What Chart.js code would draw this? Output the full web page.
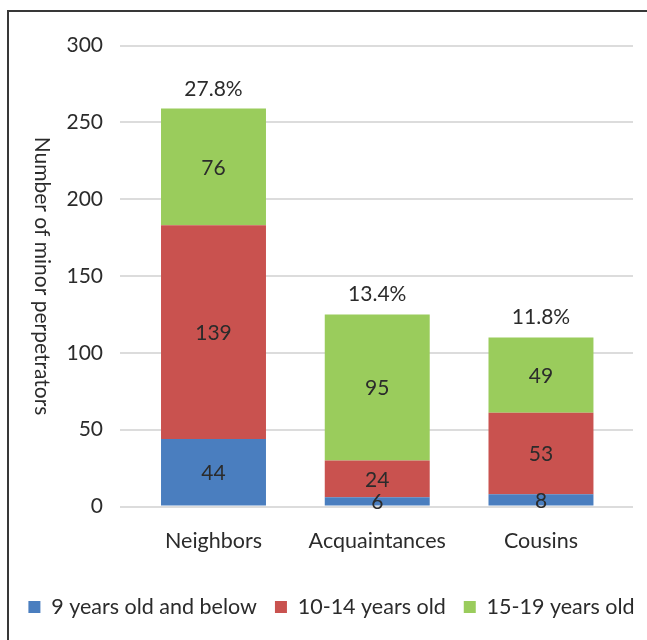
<!DOCTYPE html>
<html>
<head>
<meta charset="utf-8">
<script src="https://cdn.jsdelivr.net/npm/chart.js@4/dist/chart.umd.min.js"></script>
<style>
  html, body { margin: 0; padding: 0; background: #fff; overflow: hidden; }
  #wrap { position: relative; width: 647px; height: 640px; }
  #c { position: absolute; left: 0; top: 0; }
  #frame { position: absolute; left: 7px; top: 10px; width: 700px; height: 700px;
           border: 2px solid #383838; pointer-events: none; }
</style>
</head>
<body>
<div id="wrap">
  <canvas id="c" width="647" height="640"></canvas>
  <div id="frame"></div>
</div>
<script>
// ---- data ----
const categories = ['Neighbors', 'Acquaintances', 'Cousins'];
const seriesNames = ['9 years old and below', '10-14 years old', '15-19 years old'];
const age9Below = [44, 6, 8];
const age10to14 = [139, 24, 53];
const age15to19 = [76, 95, 49];
const totalPercent = ['27.8%', '13.4%', '11.8%'];
const yTicks = [0, 50, 100, 150, 200, 250, 300];
const yTitle = 'Number of minor perpetrators';

const colors = ['#4a7ebf', '#c9524f', '#9acc5c'];
const FONT = 'Lato, "Open Sans", sans-serif';
const TEXT = '#2b2b2b';

const toPts = arr => arr.map((v, i) => ({ x: i, y: v }));

const segLabels = {
  id: 'segLabels',
  afterLayout(chart) {
    if (chart.legend) { chart.legend.left += 8; chart.legend.right += 8; }
  },
  afterDatasetsDraw(chart) {
    const ctx = chart.ctx;
    ctx.save();
    ctx.font = '21px ' + FONT;
    ctx.fillStyle = TEXT;
    ctx.textAlign = 'center';
    ctx.textBaseline = 'middle';
    chart.data.datasets.forEach((ds, di) => {
      const meta = chart.getDatasetMeta(di);
      meta.data.forEach((bar, i) => {
        const v = ds.data[i].y;
        ctx.fillText(String(v), bar.x, (bar.y + bar.base) / 2 + 1);
      });
    });
    // percentages above each stacked bar
    const last = chart.getDatasetMeta(chart.data.datasets.length - 1);
    ctx.textBaseline = 'alphabetic';
    last.data.forEach((bar, i) => {
      ctx.fillText(totalPercent[i], bar.x, bar.y - 13);
    });
    // y-axis title, rotated clockwise
    const ca = chart.chartArea;
    ctx.translate(42, (ca.top + ca.bottom) / 2);
    ctx.rotate(Math.PI / 2);
    ctx.textBaseline = 'middle';
    ctx.fillText(yTitle, 0, 0);
    ctx.restore();
  }
};

new Chart(document.getElementById('c'), {
  type: 'bar',
  data: {
    datasets: [
      { label: seriesNames[0], data: toPts(age9Below), backgroundColor: colors[0] },
      { label: seriesNames[1], data: toPts(age10to14), backgroundColor: colors[1] },
      { label: seriesNames[2], data: toPts(age15to19), backgroundColor: colors[2] }
    ]
  },
  options: {
    responsive: false,
    animation: false,
    devicePixelRatio: 1,
    categoryPercentage: 1,
    barPercentage: 0.641,
    layout: { padding: { left: 0, right: 0, top: 45.5, bottom: 12.25 } },
    plugins: {
      legend: {
        position: 'bottom',
        labels: {
          font: { family: FONT, size: 21.5 },
          color: TEXT,
          boxWidth: 12,
          boxHeight: 12,
          padding: 18
        }
      },
      tooltip: { enabled: false }
    },
    scales: {
      x: {
        type: 'linear',
        stacked: true,
        offset: false,
        min: -0.571,
        max: 2.562,
        afterBuildTicks: s => { s.ticks = categories.map((c, i) => ({ value: i })); },
        afterFit: s => { s.height = 71.75; },
        grid: { display: false, drawTicks: false },
        border: { display: false },
        ticks: {
          callback: v => categories[v],
          font: { family: FONT, size: 21.5 },
          color: TEXT,
          padding: 22,
          maxRotation: 0,
          autoSkip: false
        }
      },
      y: {
        stacked: true,
        min: 0,
        max: 300,
        afterBuildTicks: s => { s.ticks = yTicks.map(v => ({ value: v })); },
        afterFit: s => { s.width = 120; },
        grid: { color: '#dcdcdc', lineWidth: 2, drawTicks: false },
        border: { display: false },
        ticks: {
          font: { family: FONT, size: 21 },
          color: TEXT,
          padding: 17
        }
      },
      yRightGap: {
        position: 'right',
        min: 0,
        max: 1,
        afterFit: s => { s.width = 14; },
        grid: { display: false, drawTicks: false },
        border: { display: false },
        ticks: { display: false }
      }
    }
  },
  plugins: [segLabels]
});
</script>
</body>
</html>
